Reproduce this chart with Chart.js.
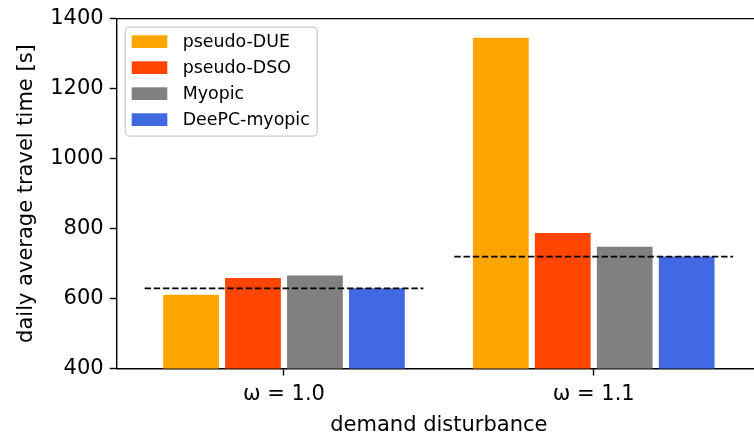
<!DOCTYPE html>
<html>
<head>
<meta charset="utf-8">
<script src="https://cdn.jsdelivr.net/npm/chart.js@4/dist/chart.umd.min.js"></script>
<style>
  html, body { margin: 0; padding: 0; background: #fff; overflow: hidden; }
</style>
</head>
<body>
<canvas id="chart" width="761" height="441"></canvas>
<script>
const CATEGORIES = ["ω = 1.0", "ω = 1.1"];
const CATEGORY_POS = [0, 1];
const SERIES = ["pseudo-DUE", "pseudo-DSO", "Myopic", "DeePC-myopic"];
const PSEUDO_DUE = [611, 1345];
const PSEUDO_DSO = [659, 787];
const MYOPIC = [666, 748];
const DEEPC_MYOPIC = [629, 720];
const REFERENCE = [629, 720];
const REF_HALF_WIDTH = 0.45;
const COLORS = ["#FFA500", "#FF4500", "#808080", "#4169E1"];

const FONT = "DejaVu Sans";
Chart.defaults.font.family = FONT;
Chart.defaults.color = "#000";

const seriesValues = [PSEUDO_DUE, PSEUDO_DSO, MYOPIC, DEEPC_MYOPIC];

const barSets = SERIES.map((name, i) => ({
  type: "bar",
  label: name,
  data: CATEGORY_POS.map((x, j) => ({ x, y: seriesValues[i][j] })),
  backgroundColor: COLORS[i],
  borderWidth: 0,
  categoryPercentage: 0.8,
  barPercentage: 0.9,
  order: 1
}));

const refSets = CATEGORY_POS.map((x, j) => ({
  type: "line",
  label: "ref",
  data: [{ x: x - REF_HALF_WIDTH, y: REFERENCE[j] }, { x: x + REF_HALF_WIDTH, y: REFERENCE[j] }],
  borderColor: "#000",
  borderWidth: 1.7,
  borderDash: [6.4, 2.8],
  pointRadius: 0,
  fill: false,
  order: 0
}));

// legend drawn inside the axes, matplotlib style
const insideLegend = {
  id: "insideLegend",
  afterDraw(chart) {
    const { ctx, chartArea } = chart;
    const x = chartArea.left + 8.5, y = chartArea.top + 8.5, w = 192, h = 109;
    ctx.save();
    ctx.beginPath();
    ctx.roundRect(x, y, w, h, 4);
    ctx.fillStyle = "rgba(255,255,255,0.8)";
    ctx.fill();
    ctx.strokeStyle = "#cccccc";
    ctx.lineWidth = 1.2;
    ctx.stroke();
    ctx.font = `17.4px "${FONT}"`;
    ctx.textBaseline = "middle";
    barSets.forEach((ds, i) => {
      const cy = y + 14.5 + i * 26;
      ctx.fillStyle = ds.backgroundColor;
      ctx.fillRect(x + 6.5, cy - 6.3, 35.6, 12.7);
      ctx.fillStyle = "#000";
      ctx.fillText(ds.label, x + 57.5, cy + 1);
    });
    // top spine
    ctx.beginPath();
    ctx.moveTo(chartArea.left, chartArea.top);
    ctx.lineTo(chartArea.right, chartArea.top);
    ctx.strokeStyle = "#000";
    ctx.lineWidth = 1.4;
    ctx.stroke();
    ctx.restore();
  }
};

new Chart(document.getElementById("chart"), {
  type: "bar",
  data: { datasets: [...barSets, ...refSets] },
  options: {
    responsive: false,
    animation: false,
    layout: { padding: { top: 16.5, right: 0, bottom: 0, left: 0 } },
    plugins: { legend: { display: false }, tooltip: { enabled: false } },
    scales: {
      x: {
        type: "linear",
        min: -0.54,
        max: 1.54,
        offset: false,
        afterBuildTicks: scale => { scale.ticks = CATEGORY_POS.map(v => ({ value: v })); },
        afterFit: scale => { scale.height = 72.5; },
        ticks: {
          font: { size: 21 },
          padding: 6,
          maxRotation: 0,
          callback: value => CATEGORIES[CATEGORY_POS.indexOf(value)] ?? ""
        },
        grid: { display: true, drawOnChartArea: false, offset: false, tickLength: 7, tickColor: "#000", tickWidth: 1.4 },
        border: { display: true, color: "#000", width: 1.4 },
        title: { display: true, text: "demand disturbance", font: { size: 21 }, padding: { top: 0, bottom: 3 } }
      },
      y: {
        min: 400,
        max: 1400,
        afterFit: scale => { scale.width = 116.7; },
        ticks: { stepSize: 200, font: { size: 21 }, padding: 6, callback: value => String(value) },
        grid: { display: true, drawOnChartArea: false, tickLength: 7, tickColor: "#000", tickWidth: 1.4 },
        border: { display: true, color: "#000", width: 1.4 },
        title: { display: true, text: "daily average travel time [s]", font: { size: 21 }, padding: { top: 14, bottom: 0 } }
      }
    }
  },
  plugins: [insideLegend]
});
</script>
</body>
</html>
